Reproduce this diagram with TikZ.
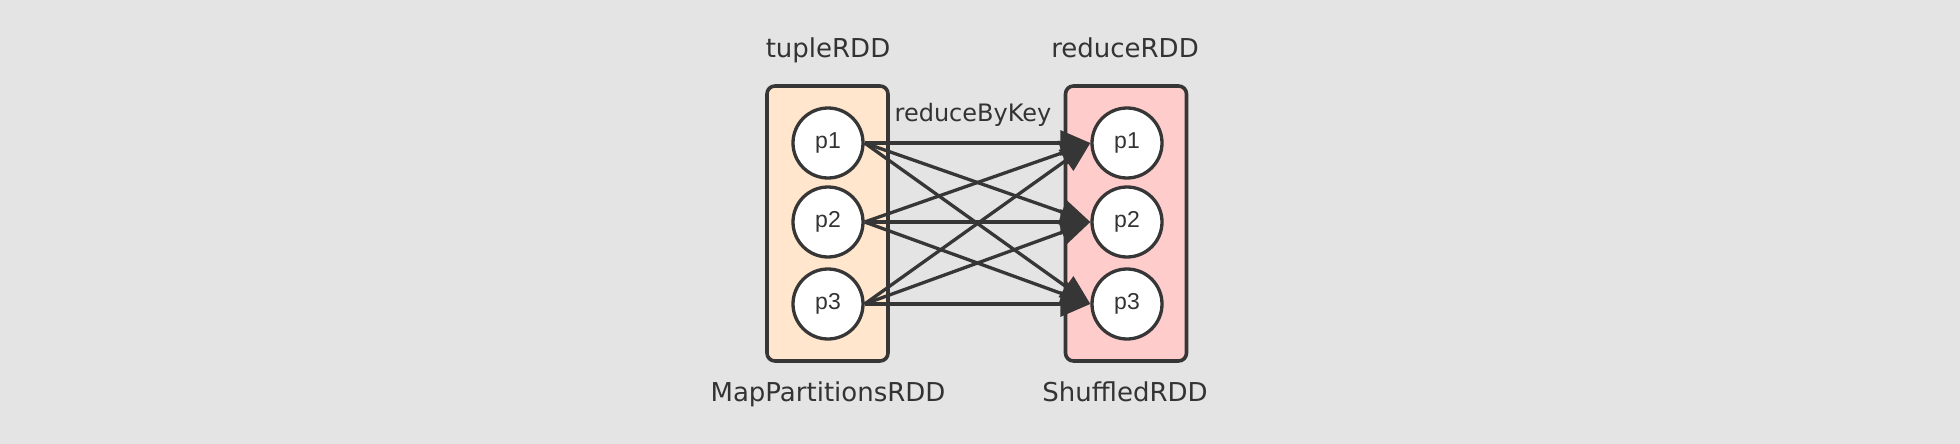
\documentclass[tikz,border=0pt]{standalone}
\usepackage{fontspec}
\setmainfont{DejaVu Sans}
\newfontfamily\arialf{Liberation Sans}
\usetikzlibrary{arrows.meta}
\definecolor{bg}{HTML}{E4E4E4}
\definecolor{strk}{HTML}{363636}
\definecolor{txt}{HTML}{333333}
\definecolor{orangefill}{HTML}{FFE6CC}
\definecolor{redfill}{HTML}{FFCCCC}
\tikzset{
  rddbox/.style={draw=strk, line width=3.6pt, rounded corners=8pt, minimum width=121pt, minimum height=275pt, inner sep=0pt},
  part/.style={circle, draw=strk, fill=white, line width=3.3pt, minimum size=70pt, inner sep=0pt, font=\arialf\fontsize{23}{27}\selectfont, text=txt},
  lbl/.style={font=\fontsize{26}{31}\selectfont, text=txt, inner sep=0pt, anchor=base},
  edge/.style={draw=strk, line width=3.3pt, -{Triangle[length=30pt,width=25pt]}},
}
\begin{document}
\begin{tikzpicture}[x=1pt,y=-1pt]
\fill[bg] (0,0) rectangle (1960,444);
\useasboundingbox (0,0) rectangle (1960,444);
\node[rddbox, fill=orangefill] (L) at (827.5,223.5) {};
\node[rddbox, fill=redfill] (R) at (1126,223.5) {};
\node[lbl] (t1) at (828,57.5) {tupleRDD};
\node[lbl] (t2) at (1125,57.5) {reduceRDD};
\node[lbl] (t3) at (828,401.5) {MapPartitionsRDD};
\node[lbl] (t4) at (1125,401.5) {ShuffledRDD};
\node[lbl, font=\fontsize{24}{29}\selectfont] (op) at (973,121.5) {reduceByKey};
\node[part] (a1) at (828,143) {p1};
\node[part] (a2) at (828,222) {p2};
\node[part] (a3) at (828,304) {p3};
\node[part] (b1) at (1127,143) {p1};
\node[part] (b2) at (1127,222) {p2};
\node[part] (b3) at (1127,304) {p3};
\foreach \i in {1,2,3}{
  \foreach \j in {1,2,3}{
    \draw[edge] (a\i.east) -- (b\j.west);
  }
}
\end{tikzpicture}
\end{document}
